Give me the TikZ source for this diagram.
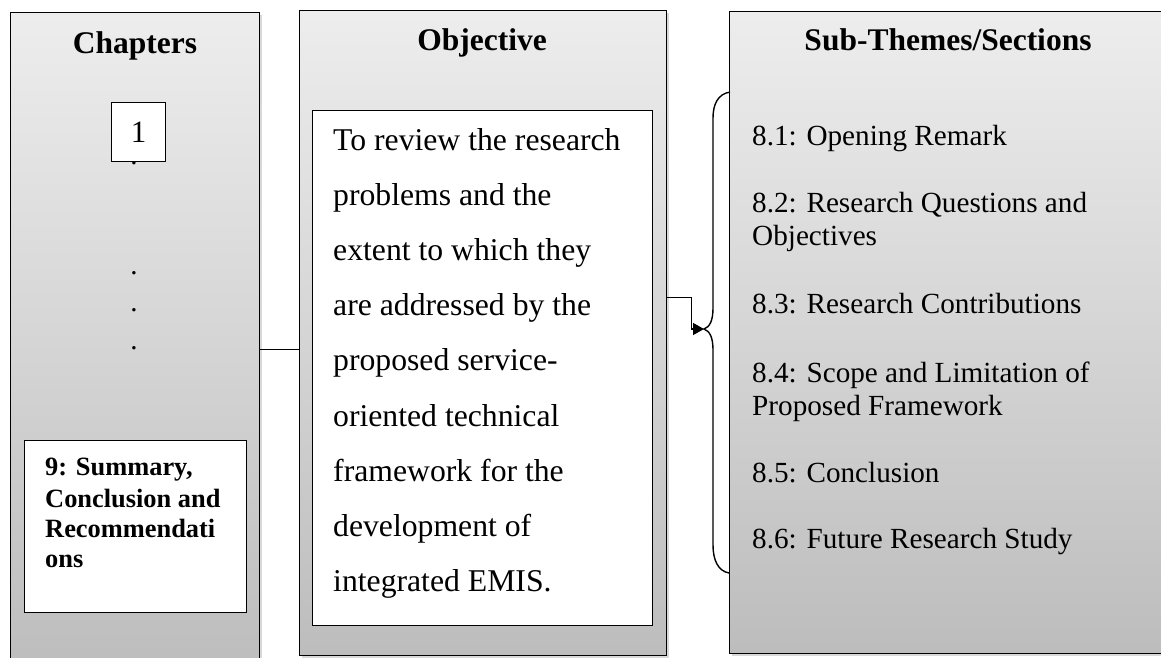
\documentclass[tikz,border=0pt]{standalone}
\usepackage{fontspec}
\setmainfont{Liberation Serif}
\usetikzlibrary{arrows.meta,shadows}

\begin{document}
\begin{tikzpicture}[x=1pt,y=-1pt,
  panel/.style={draw,line width=1.4pt,anchor=north west,inner sep=0pt,top color=black!7,bottom color=black!26,drop shadow={shadow xshift=2pt,shadow yshift=-2pt,opacity=0.3}},
  whitebox/.style={draw,line width=1.2pt,fill=white,anchor=north west,inner sep=0pt},
  head/.style={anchor=base,inner sep=0pt,font=\fontsize{31.5}{36}\selectfont\bfseries},
  body/.style={anchor=base west,inner sep=0pt,font=\fontsize{31.7}{36}\selectfont},
  item/.style={anchor=base west,inner sep=0pt,font=\fontsize{29.2}{33}\selectfont},
  chapline/.style={anchor=base west,inner sep=0pt,font=\fontsize{26.4}{30}\selectfont\bfseries},
  dotmark/.style={anchor=base,inner sep=0pt,font=\fontsize{29}{33}\selectfont},
  link/.style={line width=1.4pt}]
\path[fill=white,use as bounding box] (0,0) rectangle (1161,657);
\node[panel,minimum width=249pt,minimum height=660pt] (chap) at (10,12) {};
\node[panel,minimum width=367pt,minimum height=645pt] (obj) at (299,10) {};
\node[panel,minimum width=450pt,minimum height=642pt] (subs) at (729,11) {};
\node[head] (chaptitle) at (135,53) {Chapters};
\node[head] (objtitle) at (482,50) {Objective};
\node[head] (substitle) at (948,50) {Sub-Themes/Sections};
\node[whitebox,minimum width=54pt,minimum height=59pt,font=\fontsize{31}{36}\selectfont] (ch1) at (111,102) {1};
\foreach \y in {164,274,311,349}
  \node[dotmark] (dot\y) at (134,\y) {.};
\node[whitebox,minimum width=222pt,minimum height=172pt] (ch9) at (24,440) {};
\foreach \t/\y [count=\i] in {{9: Summary,}/475,{Conclusion and}/507,Recommendati/537,ons/567}
  \node[chapline] (chline\i) at (45,\y) {\t};
\node[whitebox,minimum width=340pt,minimum height=515pt] (objbox) at (312,110) {};
\foreach \t [count=\i from 0] in {To review the research,problems and the,extent to which they,are addressed by the,proposed service-,oriented technical,framework for the,development of,integrated EMIS.}
  \node[body] (objline\i) at (333,{150+55.2*\i}) {\t};
\foreach \t/\y [count=\i] in {8.1: Opening Remark/145,8.2: Research Questions and/212,Objectives/245,8.3: Research Contributions/313,8.4: Scope and Limitation of/382,Proposed Framework/415,8.5: Conclusion/482,8.6: Future Research Study/548}
  \node[item] (subline\i) at (752,\y) {\t};
\coordinate (tip) at (704,329);
\draw[link] (730,92) .. controls (718,94) and (713,104) .. (713,118) -- (713,308) .. controls (713,320) and (710,327) .. (tip) .. controls (710,331) and (713,338) .. (713,350) -- (713,545) .. controls (713,560) and (718,571) .. (729,573);
\draw[link,-{Triangle[length=11pt,width=12pt]}] ([yshift=35.5pt]obj.east) -- ++(24,0) |- (tip);
\draw[link] ([yshift=-7pt]chap.east) -- ([yshift=-7pt]chap.east -| obj.west);
\end{tikzpicture}
\end{document}
